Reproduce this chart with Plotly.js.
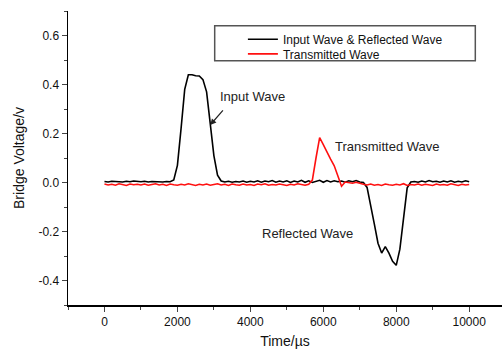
<!DOCTYPE html>
<html><head><meta charset="utf-8">
<script src="https://cdn.plot.ly/plotly-3.0.1.min.js"></script>
<style>html,body{margin:0;padding:0;background:#fff}#c{width:502px;height:350px}</style>
</head><body><div id="c"></div>
<script>
// time axis: 0 .. 10000 µs, sample step 100 µs
const T0 = 0, DT = 100;
const inputReflected = [
 0.004,0.002,0.005,0.003,0.004,0.002,0.005,0.003,0.006,0.004,
 0.003,0.005,0.002,0.004,0.003,0.005,0.002,0.004,0.003,0.010,
 0.070,0.220,0.380,0.440,0.440,0.436,0.435,0.420,0.370,0.240,
 0.110,0.030,0.006,0.002,0.005,0.001,0.004,0.002,0.006,0.001,
 0.005,0.002,0.007,0.001,0.006,0.003,0.008,0.001,0.006,0.002,
 0.007,0.000,0.006,0.002,0.009,0.001,0.007,0.000,0.004,0.009,
 0.001,0.008,0.002,0.007,0.003,0.006,0.001,0.007,0.003,0.008,
 0.002,0.000,-0.020,-0.090,-0.170,-0.248,-0.288,-0.262,-0.288,-0.322,
 -0.338,-0.272,-0.140,-0.022,0.002,0.004,0.001,0.006,0.002,0.008,
 0.003,0.005,0.001,0.006,0.002,0.007,0.001,0.005,0.002,0.007,
 0.003
];
const transmitted = [
 -0.006,-0.010,-0.007,-0.011,-0.005,-0.009,-0.012,-0.006,-0.009,-0.007,
 -0.010,-0.006,-0.011,-0.008,-0.005,-0.010,-0.007,-0.012,-0.006,-0.009,
 -0.011,-0.007,-0.010,-0.005,-0.009,-0.012,-0.007,-0.010,-0.006,-0.011,
 -0.008,-0.005,-0.010,-0.007,-0.012,-0.006,-0.009,-0.011,-0.006,-0.010,
 -0.008,-0.012,-0.006,-0.009,-0.005,-0.011,-0.008,-0.010,-0.006,-0.009,
 -0.012,-0.007,-0.010,-0.005,-0.009,-0.011,-0.007,0.010,0.100,0.183,
 0.155,0.122,0.095,0.068,0.030,-0.015,0.002,0.000,-0.003,0.001,
 -0.004,-0.007,-0.010,-0.006,-0.011,-0.008,-0.012,-0.006,-0.009,-0.011,
 -0.007,-0.010,-0.005,-0.012,-0.008,-0.010,-0.006,-0.011,-0.007,-0.009,
 -0.012,-0.006,-0.010,-0.008,-0.011,-0.005,-0.009,-0.012,-0.007,-0.010,
 -0.008
];
const seriesNames = ['Input Wave & Reflected Wave', 'Transmitted Wave'];
const xTickVals = [0, 2000, 4000, 6000, 8000, 10000];
const xTickText = ['0', '2000', '4000', '6000', '8000', '10000'];
const yTickVals = [-0.4, -0.2, 0, 0.2, 0.4, 0.6];
const yTickText = ['-0.4', '-0.2', '0.0', '0.2', '0.4', '0.6'];
const labels = [
  {text: 'Input Wave', x: 4050, y: 0.352},
  {text: 'Transmitted Wave', x: 7755, y: 0.148},
  {text: 'Reflected Wave', x: 5560, y: -0.207}
];
const arrowTip = {x: 2900, y: 0.235};

const font = 'Arial, "Liberation Sans", sans-serif';
const traces = [
  {type:'scatter', mode:'lines', name:seriesNames[0], x0:T0, dx:DT, y:inputReflected,
   line:{color:'#000000', width:1.6}, legend:'legend'},
  {type:'scatter', mode:'lines', name:seriesNames[1], x0:T0, dx:DT, y:transmitted,
   line:{color:'#ff1010', width:1.6}, legend:'legend2'}
];
const annotations = [
  {x: labels[0].x, y: labels[0].y, text: labels[0].text, showarrow:false, font:{size:13, color:'#222', family:font}},
  {x: labels[1].x, y: labels[1].y, text: labels[1].text, showarrow:false, font:{size:13, color:'#222', family:font}},
  {x: labels[2].x, y: labels[2].y, text: labels[2].text, showarrow:false, font:{size:13, color:'#222', family:font}},
  {x: arrowTip.x, y: arrowTip.y, ax: 14, ay: -16, text: '', showarrow:true, arrowhead:2, arrowsize:1, arrowwidth:1.2, arrowcolor:'#222'}
];
const layout = {
  width:502, height:350,
  margin:{l:68, r:0, t:11, b:45},
  paper_bgcolor:'#fff', plot_bgcolor:'#fff',
  font:{family:font, size:12, color:'#111'},
  xaxis:{range:[-1000,10900], tickmode:'array', tickvals:xTickVals, ticktext:xTickText, ticks:'outside', ticklen:5, tickwidth:1.2,
    minor:{dtick:1000, tick0:0, ticks:'outside', ticklen:3, tickwidth:1},
    showline:true, linecolor:'#000', linewidth:1.5, showgrid:false, zeroline:false,
    title:{text:'Time/µs', font:{size:14, family:font, color:'#111'}, standoff:8}},
  yaxis:{range:[-0.5,0.7], tickmode:'array', tickvals:yTickVals, ticktext:yTickText, ticks:'outside', ticklen:5, tickwidth:1.2,
    minor:{dtick:0.1, tick0:0, ticks:'outside', ticklen:3, tickwidth:1},
    showline:true, linecolor:'#000', linewidth:1.5, showgrid:false, zeroline:false,
    title:{text:'Bridge Voltage/v', font:{size:14, family:font, color:'#111'}, standoff:10}},
  showlegend:true,
  legend:{x:0.403, y:0.904, xanchor:'left', yanchor:'middle', bgcolor:'rgba(0,0,0,0)', borderwidth:0, font:{size:12, family:font, color:'#111'}},
  legend2:{x:0.403, y:0.854, xanchor:'left', yanchor:'middle', bgcolor:'rgba(0,0,0,0)', borderwidth:0, font:{size:12, family:font, color:'#111'}},
  shapes:[{type:'rect', xref:'paper', yref:'paper', x0:0.338, x1:0.9385, y0:0.831, y1:0.95, line:{color:'#555', width:1.5}, fillcolor:'rgba(0,0,0,0)'}],
  annotations: annotations
};
Plotly.newPlot('c', traces, layout, {displayModeBar:false, staticPlot:true});
</script></body></html>
